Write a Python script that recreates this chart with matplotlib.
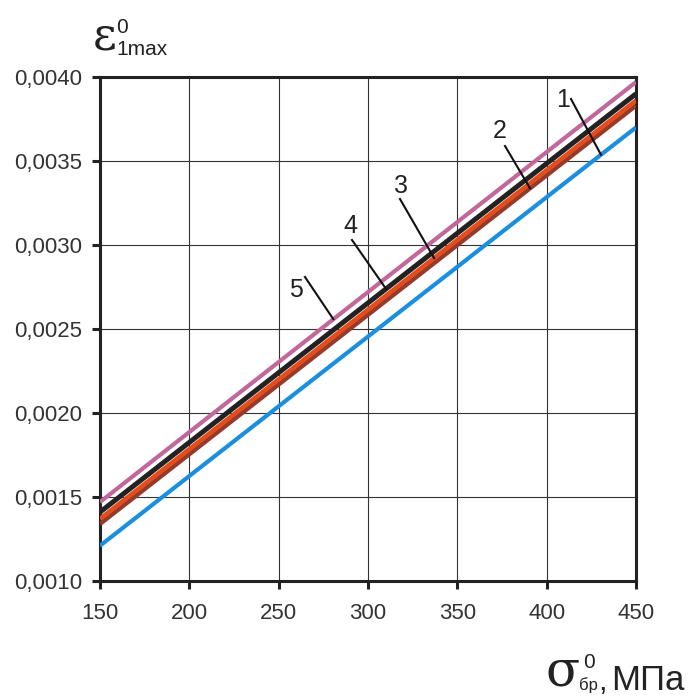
import numpy as np
import matplotlib.pyplot as plt
from matplotlib.ticker import FuncFormatter

# strength values, MPa
sigma = np.array([150, 450])

# maximum strain for each curve at both ends of the range
eps_1 = np.array([0.00121, 0.00370])
eps_2 = np.array([0.00134, 0.00383])
eps_3 = np.array([0.00137, 0.00386])
eps_4 = np.array([0.00141, 0.00390])
eps_5 = np.array([0.00147, 0.00397])

x_ticks = [150, 200, 250, 300, 350, 400, 450]
y_ticks = [0.0010, 0.0015, 0.0020, 0.0025, 0.0030, 0.0035, 0.0040]

plt.rcParams['font.family'] = ['Liberation Sans', 'DejaVu Sans']
ink = '#222222'

W, H = 691, 697
fig = plt.figure(figsize=(W / 100, H / 100), dpi=100)
ax = fig.add_axes([100 / W, 1 - 581 / H, 536 / W, 504 / H])

ax.plot(sigma, eps_1, color='#1b8fdf', lw=3.0, solid_capstyle='butt', zorder=3)
ax.plot(sigma, eps_2, color='#963a2c', lw=3.2, solid_capstyle='butt', zorder=3)
ax.plot(sigma, eps_3, color='#e64b1a', lw=3.2, solid_capstyle='butt', zorder=4)
ax.plot(sigma, eps_4, color='#222222', lw=3.6, solid_capstyle='butt', zorder=3)
ax.plot(sigma, eps_5, color='#c2679a', lw=3.0, solid_capstyle='butt', zorder=3)

ax.set_xlim(150, 450)
ax.set_ylim(0.0010, 0.0040)
ax.set_xticks(x_ticks)
ax.set_yticks(y_ticks)
ax.yaxis.set_major_formatter(FuncFormatter(lambda v, p: f"{v:.4f}".replace('.', ',')))
ax.grid(True, color='#333333', lw=0.8)
ax.set_axisbelow(True)
for s in ax.spines.values():
    s.set_linewidth(2.2)
    s.set_color(ink)
ax.tick_params(direction='out', length=6, width=2.2, color=ink,
               labelcolor='#333333', labelsize=16)
ax.tick_params(axis='x', pad=10)
ax.tick_params(axis='y', pad=7)

# curve numbers with leader lines
labels = [
    ('1', 430.4, eps_1, 563, 100, 571, 99),
    ('2', 390.7, eps_2, 500, 131, 505, 146),
    ('3', 337.0, eps_3, 401, 186, 400, 199),
    ('4', 310.1, eps_4, 350, 226, 352, 240),
    ('5', 280.6, eps_5, 296, 290, 305, 277),
]
for txt, xs, eps, tx, ty, lx, ly in labels:
    ys = np.interp(xs, sigma, eps)
    x0 = 150 + (lx - 100) / 536 * 300
    y0 = 0.0010 + (581 - ly) / 504 * 0.0030
    ax.plot([x0, xs], [y0, ys], color='#111111', lw=1.5, zorder=5, clip_on=False)
    ax.text(150 + (tx - 100) / 536 * 300, 0.0010 + (581 - ty) / 504 * 0.0030, txt,
            fontsize=18, ha='center', va='center', color=ink)


def ftext(x, y, s, **kw):
    fig.text(x / W, 1 - y / H, s, va='baseline', color=ink, **kw)


# axis titles
ftext(93, 50, 'ε', family='DejaVu Serif', fontsize=33)
ftext(116, 33, '0', fontsize=15)
ftext(116, 55, '1max', fontsize=15)

ftext(545, 685, 'σ', family='DejaVu Serif', fontsize=36)
ftext(583, 668, '0', fontsize=15)
ftext(579, 690, 'бр', fontsize=12)
ftext(598, 690, ',', fontsize=22)
ftext(611, 690, 'МПа', fontsize=25)

fig.savefig('out.png', dpi=100)
